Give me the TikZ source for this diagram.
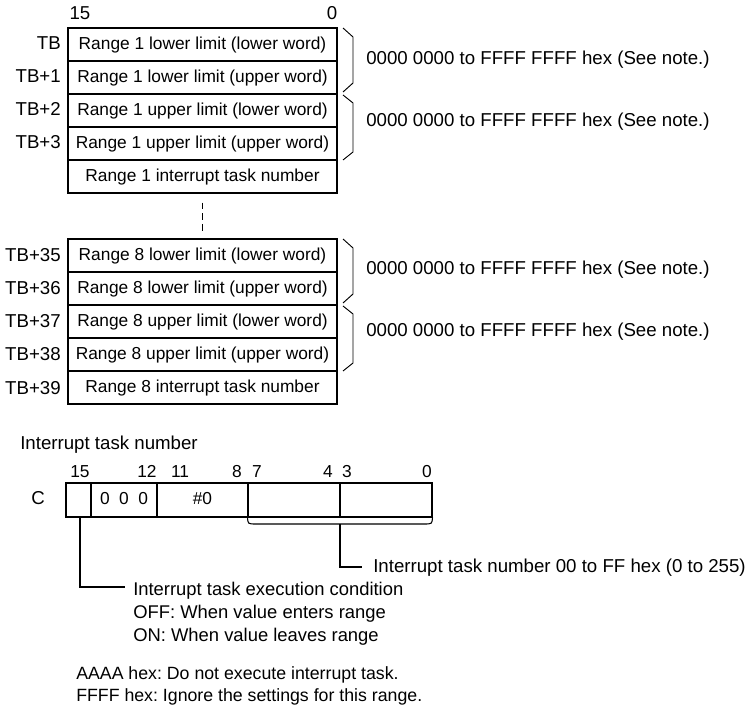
\documentclass[tikz,border=0pt]{standalone}
\usepackage{fontspec}
\setmainfont{Liberation Sans}
\begin{document}
\frenchspacing
\begin{tikzpicture}[x=0.75pt,y=-0.75pt,
  txt/.style={inner sep=0pt, text height=0.72em, text depth=0pt, font=\fontsize{13pt}{15pt}\selectfont},
  big/.style={txt, font=\fontsize{14pt}{16pt}\selectfont},
  mid/.style={txt, font=\fontsize{13.8pt}{16pt}\selectfont},
  note/.style={txt, font=\fontsize{13.3pt}{16pt}\selectfont},
  cell/.style={txt, draw, line width=0.8pt, minimum width=201.75pt, minimum height=24.75pt},
  bit/.style={txt, draw, line width=0.8pt, minimum height=25.5pt},
  ln/.style={line width=0.8pt},
  br/.style={line width=0.7pt}]
\useasboundingbox (0,0) rectangle (750,709);
% top block
\node[big] (h15) at (80,15) {15};
\node[big] (h0) at (332,15) {0};
\node[cell] (r1) at (202.5,44.5) {Range 1 lower limit (lower word)};
\node[cell] (r2) at (202.5,77.5) {Range 1 lower limit (upper word)};
\node[cell] (r3) at (202.5,110.5) {Range 1 upper limit (lower word)};
\node[cell] (r4) at (202.5,143.5) {Range 1 upper limit (upper word)};
\node[cell] (r5) at (202.5,176.5) {Range 1 interrupt task number};
\node[big,anchor=east] (l1) at (61,44.5) {TB};
\node[big,anchor=east] (l2) at (61,77.5) {TB+1};
\node[big,anchor=east] (l3) at (61,110.5) {TB+2};
\node[big,anchor=east] (l4) at (61,143.5) {TB+3};
% bottom block
\node[cell] (s1) at (202.5,255.5) {Range 8 lower limit (lower word)};
\node[cell] (s2) at (202.5,288.5) {Range 8 lower limit (upper word)};
\node[cell] (s3) at (202.5,321.5) {Range 8 upper limit (lower word)};
\node[cell] (s4) at (202.5,354.5) {Range 8 upper limit (upper word)};
\node[cell] (s5) at (202.5,387.5) {Range 8 interrupt task number};
\node[big,anchor=east] (m1) at (61,257) {TB+35};
\node[big,anchor=east] (m2) at (61,290) {TB+36};
\node[big,anchor=east] (m3) at (61,323) {TB+37};
\node[big,anchor=east] (m4) at (61,356) {TB+38};
\node[big,anchor=east] (m5) at (61,390) {TB+39};
\draw[ln, dash pattern=on 5pt off 3pt, shorten <=6.75pt, shorten >=4.5pt] (r5.south) -- (s1.north);
% braces
\draw[br] (343,28) -- (353,37) -- (353,83) -- (343,92);
\draw[br] (343,95) -- (353,103) -- (353,152) -- (343,160);
\draw[br] (343,239) -- (353,248) -- (353,294) -- (343,303);
\draw[br] (343,306) -- (353,314) -- (353,363) -- (343,371);
\node[big,anchor=west] (x1) at (366,60) {0000 0000 to FFFF FFFF hex (See note.)};
\node[big,anchor=west] (x2) at (366,122) {0000 0000 to FFFF FFFF hex (See note.)};
\node[big,anchor=west] (x3) at (366,270) {0000 0000 to FFFF FFFF hex (See note.)};
\node[big,anchor=west] (x4) at (366,332) {0000 0000 to FFFF FFFF hex (See note.)};
% bit diagram
\node[big,anchor=west] (title) at (20,445) {Interrupt task number};
\node[big] (c) at (38,500) {C};
\node[bit, minimum width=18.75pt] (b15) at (78.5,500) {};
\node[bit, minimum width=49.5pt] (b12) at (124,500) {0\hspace{0.55em}0\hspace{0.55em}0};
\node[bit, minimum width=68.25pt] (b8) at (202.5,500) {\#0};
\node[bit, minimum width=69pt] (b4) at (294,500) {};
\node[bit, minimum width=69pt] (b0) at (386,500) {};
\node[txt] (n15) at (80,473) {15};
\node[txt] (n12) at (147,473) {12};
\node[txt] (n11) at (180,473) {11};
\node[txt] (n8) at (237,473) {8};
\node[txt] (n7) at (257,473) {7};
\node[txt] (n4) at (328,473) {4};
\node[txt] (n3) at (347,473) {3};
\node[txt] (n0) at (427,473) {0};
\draw[ln] (b4.south west) .. controls (248,524) .. (256,524) -- (424,524) .. controls (432,524) .. (b0.south east);
\coordinate (bm) at (340,524);
\coordinate (lead1) at (362,567);
\draw[ln] (bm) |- (lead1);
\node[big,anchor=west] (t1) at (373,568) {Interrupt task number 00 to FF hex (0 to 255)};
\coordinate (lead2) at (125,587);
\draw[ln] (80,517) |- (lead2);
\node[mid,anchor=west] (t2) at (133,591) {Interrupt task execution condition};
\node[mid,anchor=west] (t3) at (133,614) {OFF: When value enters range};
\node[mid,anchor=west] (t4) at (133,637) {ON: When value leaves range};
\node[note,anchor=west] (t5) at (76,675) {AAAA hex: Do not execute interrupt task.};
\node[note,anchor=west] (t6) at (76,697) {FFFF hex: Ignore the settings for this range.};
\end{tikzpicture}
\end{document}
